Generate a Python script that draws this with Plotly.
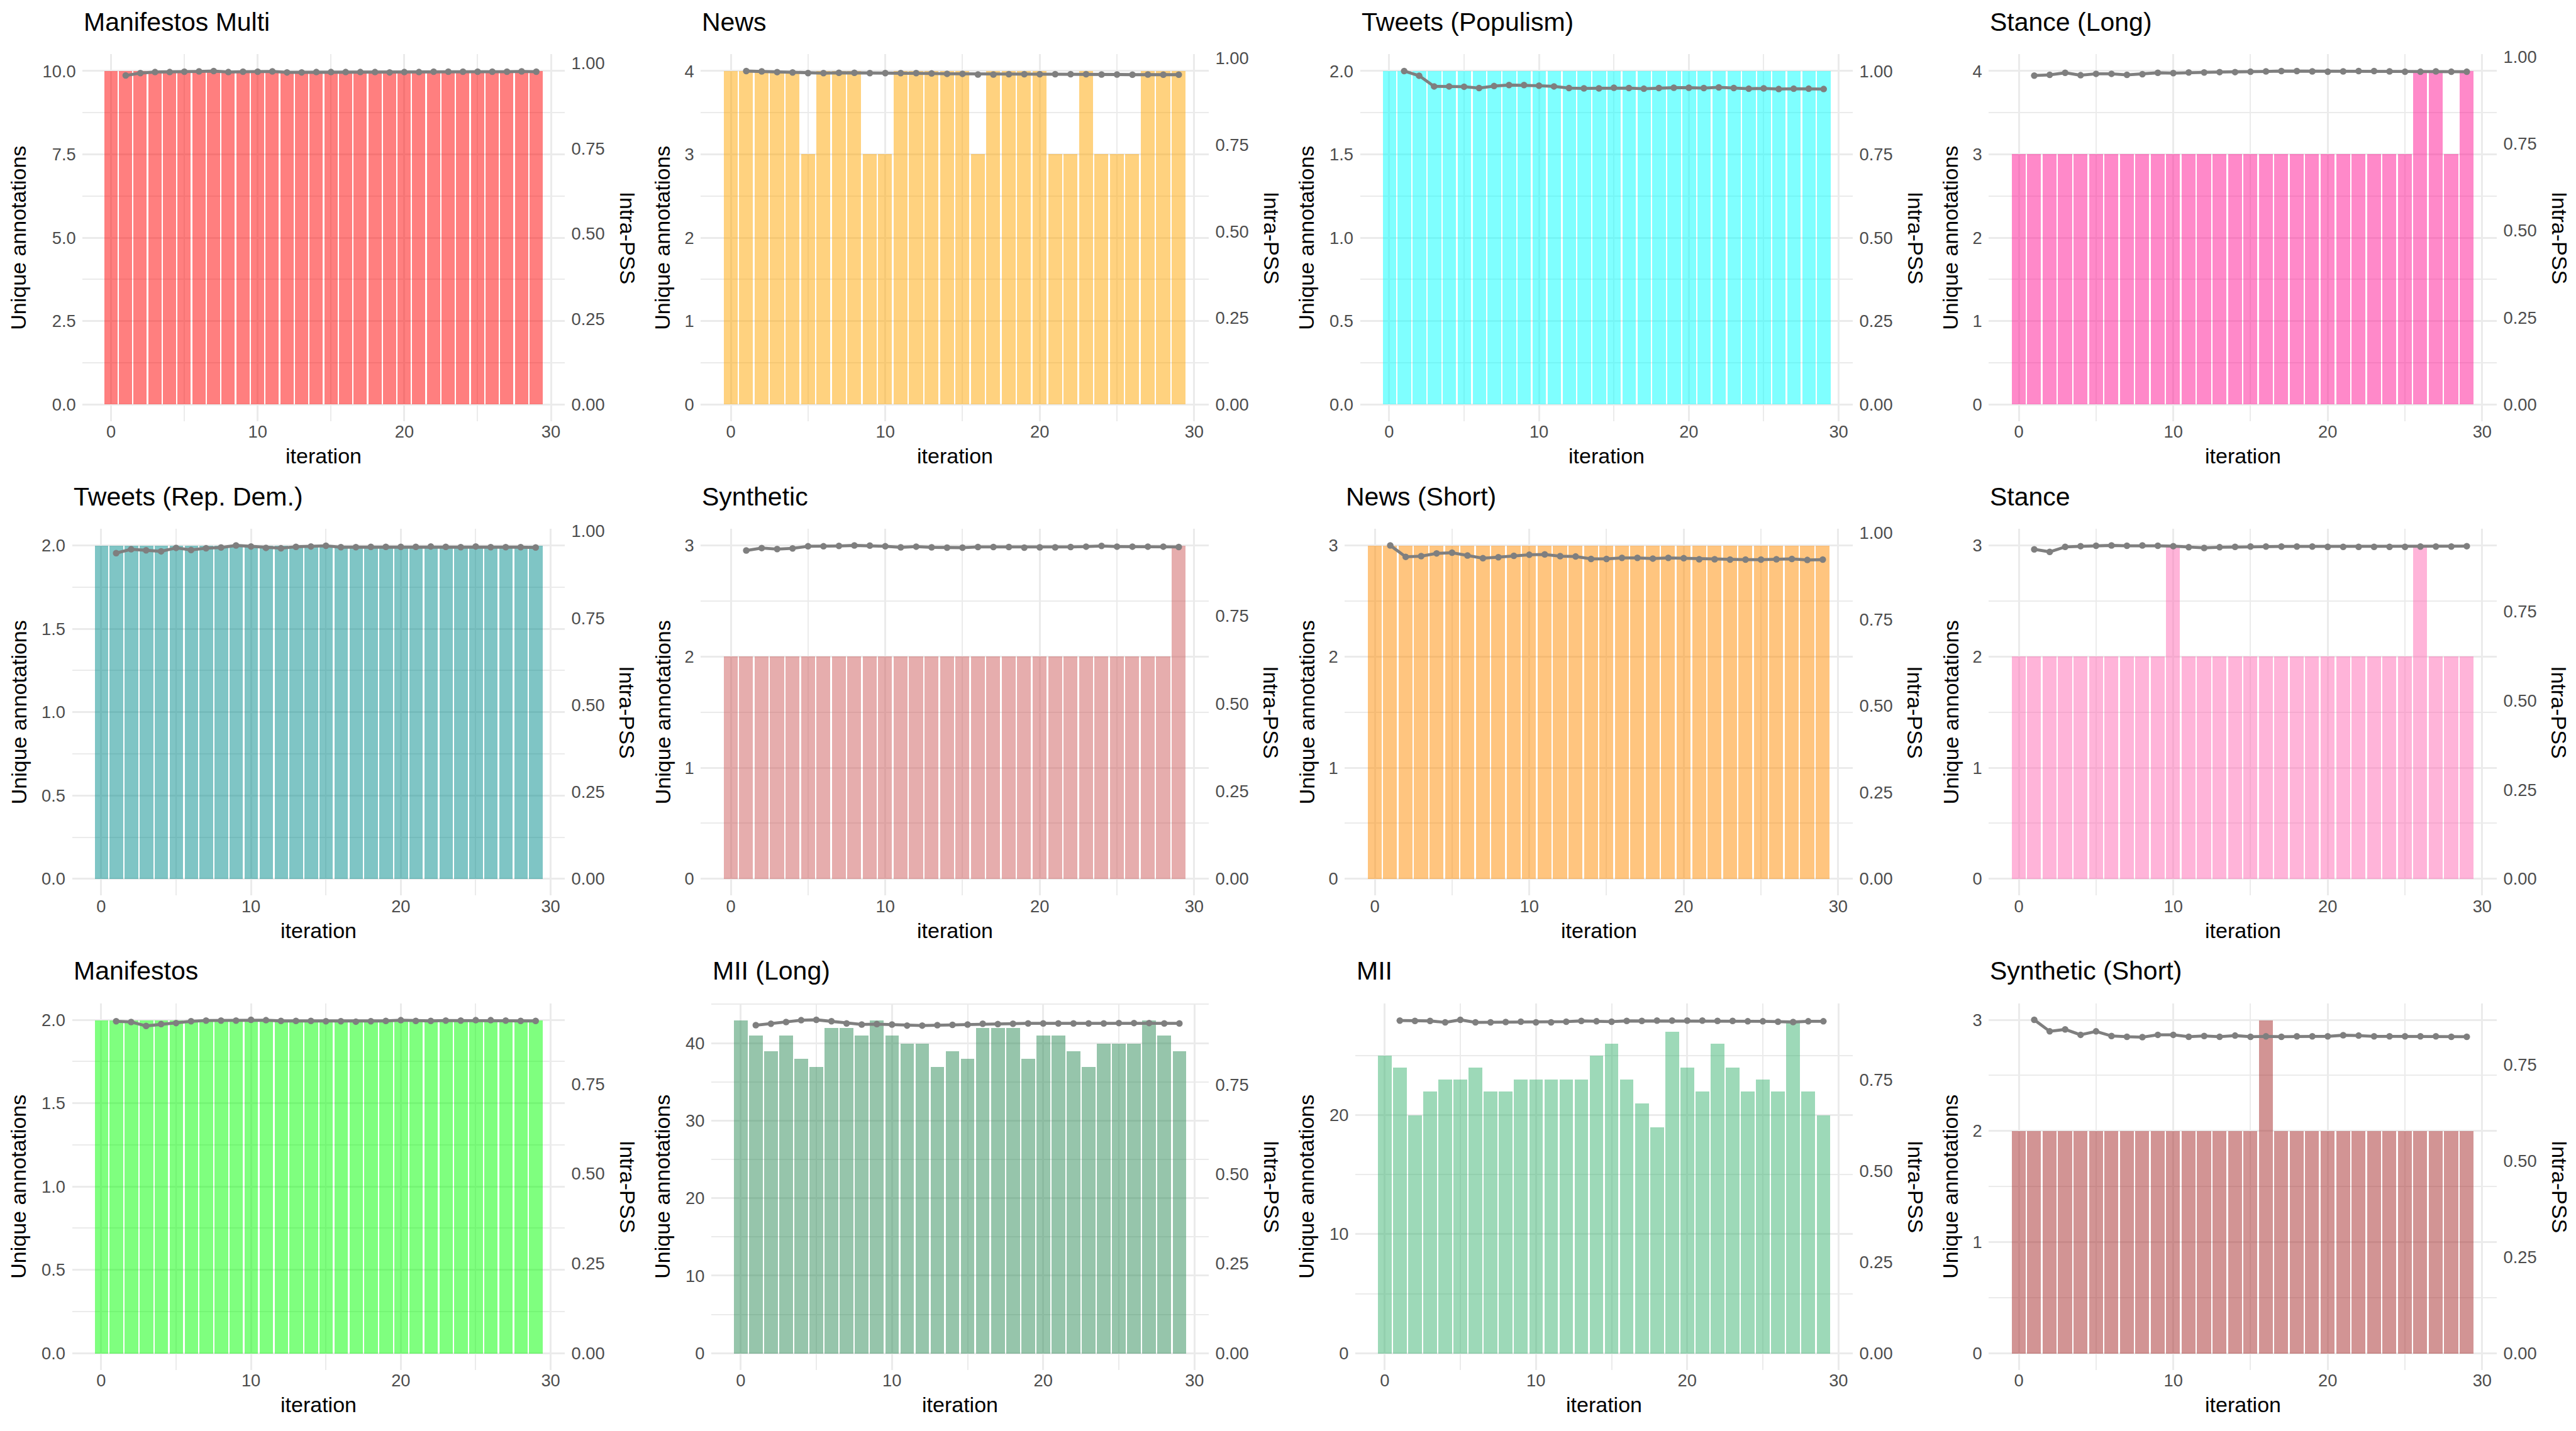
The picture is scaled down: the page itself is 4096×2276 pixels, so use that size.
import plotly.graph_objects as go

# ---------------- data ----------------
iterations = list(range(30))
pss_iterations = list(range(1, 30))

titles = ["Manifestos Multi", "News", "Tweets (Populism)", "Stance (Long)",
          "Tweets (Rep. Dem.)", "Synthetic", "News (Short)", "Stance",
          "Manifestos", "MII (Long)", "MII", "Synthetic (Short)"]

bar_colors = ["#FF0000", "#FFA500", "#00FFFF", "#FF1493",
              "#008B8B", "#CD5C5C", "#FF8C00", "#FF69B4",
              "#00FF00", "#2E8B57", "#3CB371", "#A52A2A"]

bars_manifestos_multi = [10, 10, 10, 10, 10, 10, 10, 10, 10, 10, 10, 10, 10, 10, 10,
                         10, 10, 10, 10, 10, 10, 10, 10, 10, 10, 10, 10, 10, 10, 10]
bars_news = [4, 4, 4, 4, 4, 3, 4, 4, 4, 3, 3, 4, 4, 4, 4,
             4, 3, 4, 4, 4, 4, 3, 3, 4, 3, 3, 3, 4, 4, 4]
bars_tweets_populism = [2, 2, 2, 2, 2, 2, 2, 2, 2, 2, 2, 2, 2, 2, 2,
                        2, 2, 2, 2, 2, 2, 2, 2, 2, 2, 2, 2, 2, 2, 2]
bars_stance_long = [3, 3, 3, 3, 3, 3, 3, 3, 3, 3, 3, 3, 3, 3, 3,
                    3, 3, 3, 3, 3, 3, 3, 3, 3, 3, 3, 4, 4, 3, 4]
bars_tweets_repdem = [2, 2, 2, 2, 2, 2, 2, 2, 2, 2, 2, 2, 2, 2, 2,
                      2, 2, 2, 2, 2, 2, 2, 2, 2, 2, 2, 2, 2, 2, 2]
bars_synthetic = [2, 2, 2, 2, 2, 2, 2, 2, 2, 2, 2, 2, 2, 2, 2,
                  2, 2, 2, 2, 2, 2, 2, 2, 2, 2, 2, 2, 2, 2, 3]
bars_news_short = [3, 3, 3, 3, 3, 3, 3, 3, 3, 3, 3, 3, 3, 3, 3,
                   3, 3, 3, 3, 3, 3, 3, 3, 3, 3, 3, 3, 3, 3, 3]
bars_stance = [2, 2, 2, 2, 2, 2, 2, 2, 2, 2, 3, 2, 2, 2, 2,
               2, 2, 2, 2, 2, 2, 2, 2, 2, 2, 2, 3, 2, 2, 2]
bars_manifestos = [2, 2, 2, 2, 2, 2, 2, 2, 2, 2, 2, 2, 2, 2, 2,
                   2, 2, 2, 2, 2, 2, 2, 2, 2, 2, 2, 2, 2, 2, 2]
bars_mii_long = [43, 41, 39, 41, 38, 37, 42, 42, 41, 43, 41, 40, 40, 37, 39,
                 38, 42, 42, 42, 38, 41, 41, 39, 37, 40, 40, 40, 43, 41, 39]
bars_mii = [25, 24, 20, 22, 23, 23, 24, 22, 22, 23, 23, 23, 23, 23, 25,
            26, 23, 21, 19, 27, 24, 22, 26, 24, 22, 23, 22, 28, 22, 20]
bars_synthetic_short = [2, 2, 2, 2, 2, 2, 2, 2, 2, 2, 2, 2, 2, 2, 2,
                        2, 3, 2, 2, 2, 2, 2, 2, 2, 2, 2, 2, 2, 2, 2]

pss_manifestos_multi = [0.964, 0.971, 0.974, 0.974, 0.975, 0.976, 0.977, 0.974, 0.975, 0.975,
                        0.976, 0.973, 0.973, 0.974, 0.974, 0.974, 0.974, 0.974, 0.973, 0.974,
                        0.974, 0.975, 0.975, 0.975, 0.975, 0.975, 0.975, 0.976, 0.975]
pss_news = [0.963, 0.962, 0.960, 0.959, 0.957, 0.957, 0.958, 0.958, 0.957, 0.957,
            0.957, 0.957, 0.956, 0.955, 0.955, 0.953, 0.953, 0.954, 0.954, 0.954,
            0.954, 0.954, 0.954, 0.953, 0.953, 0.9525, 0.953, 0.9525, 0.9525]
pss_tweets_populism = [1.000, 0.986, 0.954, 0.954, 0.953, 0.949, 0.955, 0.958, 0.958, 0.956,
                       0.954, 0.949, 0.948, 0.948, 0.950, 0.949, 0.947, 0.949, 0.950, 0.950,
                       0.949, 0.951, 0.949, 0.947, 0.948, 0.946, 0.947, 0.947, 0.946]
pss_stance_long = [0.946, 0.948, 0.954, 0.947, 0.951, 0.951, 0.948, 0.950, 0.954, 0.953,
                   0.955, 0.955, 0.956, 0.956, 0.957, 0.958, 0.959, 0.959, 0.958, 0.957,
                   0.958, 0.959, 0.959, 0.958, 0.957, 0.957, 0.958, 0.957, 0.957]
pss_tweets_repdem = [0.937, 0.948, 0.945, 0.942, 0.952, 0.946, 0.951, 0.953, 0.959, 0.956,
                     0.952, 0.951, 0.955, 0.956, 0.958, 0.954, 0.954, 0.955, 0.955, 0.955,
                     0.955, 0.956, 0.955, 0.954, 0.956, 0.954, 0.954, 0.954, 0.953]
pss_synthetic = [0.937, 0.944, 0.941, 0.943, 0.949, 0.949, 0.950, 0.9514, 0.951, 0.949,
                 0.946, 0.948, 0.946, 0.945, 0.945, 0.947, 0.947, 0.947, 0.945, 0.946,
                 0.946, 0.947, 0.948, 0.950, 0.948, 0.948, 0.948, 0.948, 0.947]
pss_news_short = [0.964, 0.931, 0.933, 0.941, 0.943, 0.935, 0.927, 0.930, 0.934, 0.937,
                  0.938, 0.933, 0.932, 0.925, 0.925, 0.928, 0.928, 0.926, 0.928, 0.927,
                  0.924, 0.924, 0.923, 0.923, 0.923, 0.924, 0.925, 0.922, 0.923]
pss_stance = [0.924, 0.917, 0.931, 0.933, 0.934, 0.935, 0.934, 0.935, 0.934, 0.933,
              0.930, 0.928, 0.930, 0.931, 0.932, 0.932, 0.932, 0.932, 0.932, 0.931,
              0.931, 0.931, 0.931, 0.931, 0.931, 0.932, 0.932, 0.932, 0.933]
pss_manifestos = [0.925, 0.923, 0.912, 0.917, 0.920, 0.925, 0.927, 0.927, 0.927, 0.929,
                  0.928, 0.926, 0.926, 0.926, 0.925, 0.925, 0.924, 0.925, 0.926, 0.928,
                  0.926, 0.926, 0.927, 0.927, 0.928, 0.928, 0.927, 0.926, 0.926]
pss_mii_long = [0.916, 0.920, 0.925, 0.930, 0.931, 0.927, 0.921, 0.918, 0.919, 0.918,
                0.915, 0.915, 0.916, 0.917, 0.918, 0.920, 0.919, 0.920, 0.921, 0.921,
                0.921, 0.921, 0.921, 0.921, 0.922, 0.922, 0.922, 0.921, 0.921]
pss_mii = [0.913, 0.912, 0.912, 0.908, 0.915, 0.908, 0.908, 0.909, 0.910, 0.908,
           0.908, 0.910, 0.912, 0.911, 0.910, 0.912, 0.912, 0.913, 0.913, 0.913,
           0.913, 0.912, 0.912, 0.911, 0.911, 0.910, 0.909, 0.911, 0.911]
pss_synthetic_short = [0.867, 0.837, 0.842, 0.828, 0.837, 0.825, 0.823, 0.822, 0.828, 0.828,
                       0.823, 0.825, 0.823, 0.826, 0.823, 0.824, 0.823, 0.824, 0.824, 0.824,
                       0.827, 0.826, 0.824, 0.824, 0.824, 0.824, 0.824, 0.823, 0.823]

bars_all = [bars_manifestos_multi, bars_news, bars_tweets_populism, bars_stance_long,
            bars_tweets_repdem, bars_synthetic, bars_news_short, bars_stance,
            bars_manifestos, bars_mii_long, bars_mii, bars_synthetic_short]
pss_all = [pss_manifestos_multi, pss_news, pss_tweets_populism, pss_stance_long,
           pss_tweets_repdem, pss_synthetic, pss_news_short, pss_stance,
           pss_manifestos, pss_mii_long, pss_mii, pss_synthetic_short]

# primary axis ticks (major) and minor grid values
yticks_all = [[0, 2.5, 5, 7.5, 10], [0, 1, 2, 3, 4], [0, 0.5, 1, 1.5, 2], [0, 1, 2, 3, 4],
              [0, 0.5, 1, 1.5, 2], [0, 1, 2, 3], [0, 1, 2, 3], [0, 1, 2, 3],
              [0, 0.5, 1, 1.5, 2], [0, 10, 20, 30, 40], [0, 10, 20], [0, 1, 2, 3]]
ytext_all = [["0.0", "2.5", "5.0", "7.5", "10.0"], ["0", "1", "2", "3", "4"],
             ["0.0", "0.5", "1.0", "1.5", "2.0"], ["0", "1", "2", "3", "4"],
             ["0.0", "0.5", "1.0", "1.5", "2.0"], ["0", "1", "2", "3"],
             ["0", "1", "2", "3"], ["0", "1", "2", "3"],
             ["0.0", "0.5", "1.0", "1.5", "2.0"], ["0", "10", "20", "30", "40"],
             ["0", "10", "20"], ["0", "1", "2", "3"]]
yminor_all = [[1.25, 3.75, 6.25, 8.75], [0.5, 1.5, 2.5, 3.5], [0.25, 0.75, 1.25, 1.75],
              [0.5, 1.5, 2.5, 3.5], [0.25, 0.75, 1.25, 1.75], [0.5, 1.5, 2.5],
              [0.5, 1.5, 2.5], [0.5, 1.5, 2.5], [0.25, 0.75, 1.25, 1.75],
              [5, 15, 25, 35, 45], [5, 15, 25], [0.5, 1.5, 2.5]]
sec_ticks = [0, 0.25, 0.5, 0.75, 1.0]
sec_text = ["0.00", "0.25", "0.50", "0.75", "1.00"]
xticks = [0, 10, 20, 30]
xminor = [5, 15, 25]

# ---------------- layout geometry ----------------
W, H = 4096, 2276
S = W / 5400.0
PANEL_W, PANEL_H = 1350, 1000
# plot-area left edge (reference px inside panel), depends on tick label width
left_full = [173, 119, 151, 119, 151, 119, 119, 119, 151, 141, 141, 119]
RIGHT_FULL, TOP_FULL, BOTTOM_FULL = 1184, 98.7, 871.8

FONT = "Liberation Sans, Arial, Helvetica, sans-serif"
TICK_SIZE = 27.3
AXIS_TITLE_SIZE = 34
TITLE_SIZE = 41
GRID = "#EBEBEB"
TICK_COLOR = "#4D4D4D"


def rgba(hex_color, a):
    h = hex_color.lstrip("#")
    return "rgba(%d,%d,%d,%.2f)" % (int(h[0:2], 16), int(h[2:4], 16), int(h[4:6], 16), a)


fig = go.Figure()
annotations = []
layout_axes = {}

for i in range(12):
    c, r = i % 4, i // 4
    n = i + 1
    px0 = PANEL_W * c * S
    py0 = PANEL_H * r * S
    left = px0 + left_full[i] * S
    right = px0 + RIGHT_FULL * S
    top = py0 + TOP_FULL * S
    bottom = py0 + BOTTOM_FULL * S
    xdom = [left / W, right / W]
    ydom = [1 - bottom / H, 1 - top / H]

    xname = "x" if n == 1 else "x%d" % n
    yp = 2 * n - 1
    ys = 2 * n
    ypname = "y" if yp == 1 else "y%d" % yp
    ysname = "y%d" % ys

    bmax = max(bars_all[i])
    pmax = max(pss_all[i])

    fig.add_trace(go.Bar(
        x=iterations, y=bars_all[i], width=0.9,
        marker=dict(color=rgba(bar_colors[i], 0.5), line=dict(width=0)),
        xaxis=xname, yaxis=ypname, showlegend=False, hoverinfo="x+y"))
    fig.add_trace(go.Scatter(
        x=pss_iterations, y=pss_all[i], mode="lines+markers",
        line=dict(color="#7F7F7F", width=4.8),
        marker=dict(color="#7F7F7F", size=10.5),
        xaxis=xname, yaxis=ysname, showlegend=False))

    layout_axes["xaxis" if n == 1 else "xaxis%d" % n] = dict(
        domain=xdom, anchor=ypname, range=[-1.945, 30.945],
        tickmode="array", tickvals=xticks, ticktext=[str(v) for v in xticks],
        ticks="", ticklabelstandoff=-2,
        showgrid=True, gridcolor=GRID, gridwidth=3, zeroline=False, showline=False,
        minor=dict(tickvals=xminor, showgrid=True, gridcolor=GRID, gridwidth=1.5, ticks=""),
        tickfont=dict(family=FONT, size=TICK_SIZE, color=TICK_COLOR), fixedrange=True)

    layout_axes["yaxis" if yp == 1 else "yaxis%d" % yp] = dict(
        domain=ydom, anchor=xname, range=[-0.05 * bmax, 1.05 * bmax],
        tickmode="array", tickvals=yticks_all[i], ticktext=ytext_all[i],
        ticks="outside", ticklen=4, tickcolor="rgba(0,0,0,0)",
        showgrid=True, gridcolor=GRID, gridwidth=3, zeroline=False, showline=False,
        minor=dict(tickvals=yminor_all[i], showgrid=True, gridcolor=GRID, gridwidth=1.5, ticks=""),
        tickfont=dict(family=FONT, size=TICK_SIZE, color=TICK_COLOR), fixedrange=True)

    top2 = 1.05 * pmax
    sv = [v for v in sec_ticks if v <= top2 + 1e-9]
    st = [sec_text[k] for k, v in enumerate(sec_ticks) if v <= top2 + 1e-9]
    layout_axes["yaxis%d" % ys] = dict(
        overlaying=ypname, side="right", anchor=xname, range=[-0.05 * pmax, top2],
        tickmode="array", tickvals=sv, ticktext=st,
        ticks="outside", ticklen=4, tickcolor="rgba(0,0,0,0)",
        showgrid=False, zeroline=False, showline=False,
        tickfont=dict(family=FONT, size=TICK_SIZE, color=TICK_COLOR), fixedrange=True)

    # panel title
    annotations.append(dict(
        text=titles[i], xref="paper", yref="paper",
        x=left / W, y=1 - (py0 + 31 * S) / H, xanchor="left", yanchor="middle",
        showarrow=False, font=dict(family=FONT, size=TITLE_SIZE, color="black")))
    # x axis title
    annotations.append(dict(
        text="iteration", xref="paper", yref="paper",
        x=(left + right) / 2 / W, y=1 - (py0 + 945 * S) / H, xanchor="center", yanchor="middle",
        showarrow=False, font=dict(family=FONT, size=AXIS_TITLE_SIZE, color="black")))
    # primary y title
    annotations.append(dict(
        text="Unique annotations", xref="paper", yref="paper", textangle=-90,
        x=(px0 + 39 * S) / W, y=1 - (top + bottom) / 2 / H, xanchor="center", yanchor="middle",
        showarrow=False, font=dict(family=FONT, size=AXIS_TITLE_SIZE, color="black")))
    # secondary y title
    annotations.append(dict(
        text="Intra-PSS", xref="paper", yref="paper", textangle=90,
        x=(px0 + 1315 * S) / W, y=1 - (top + bottom) / 2 / H, xanchor="center", yanchor="middle",
        showarrow=False, font=dict(family=FONT, size=AXIS_TITLE_SIZE, color="black")))

fig.update_layout(
    width=W, height=H, margin=dict(l=0, r=0, t=0, b=0, pad=0),
    paper_bgcolor="white", plot_bgcolor="white",
    showlegend=False, bargap=0, annotations=annotations,
    font=dict(family=FONT), **layout_axes)

fig.write_html("out.html", config={"displayModeBar": False})
